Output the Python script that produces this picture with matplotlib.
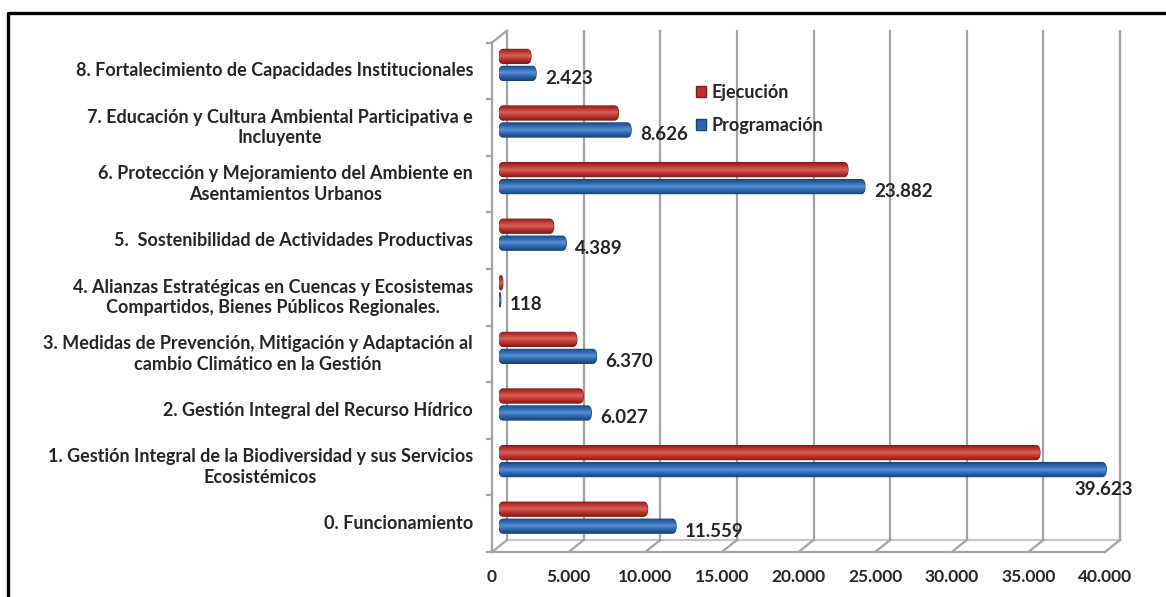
import numpy as np
import matplotlib
matplotlib.use('Agg')
import matplotlib.pyplot as plt
import matplotlib.transforms as mtransforms
from matplotlib.colors import LinearSegmentedColormap
from matplotlib.lines import Line2D
from matplotlib.patches import Patch, FancyBboxPatch

plt.rcParams['font.family'] = ['Lato', 'DejaVu Sans']

# datos
categorias = [
    "0. Funcionamiento",
    "1. Gestión Integral de la Biodiversidad y sus Servicios\nEcosistémicos",
    "2. Gestión Integral del Recurso Hídrico",
    "3. Medidas de Prevención, Mitigación y Adaptación al\ncambio Climático en la Gestión",
    "4. Alianzas Estratégicas en Cuencas y Ecosistemas\nCompartidos, Bienes Públicos Regionales.",
    "5.  Sostenibilidad de Actividades Productivas",
    "6. Protección y Mejoramiento del Ambiente en\nAsentamientos Urbanos",
    "7. Educación y Cultura Ambiental Participativa e\nIncluyente",
    "8. Fortalecimiento de Capacidades Institucionales",
]
ejecucion = [9700, 35300, 5500, 5080, 250, 3570, 22770, 7800, 2090]
programacion = [11559, 39623, 6027, 6370, 118, 4389, 23882, 8626, 2423]
ticks_x = [0, 5000, 10000, 15000, 20000, 25000, 30000, 35000, 40000]

W, H = 1166, 597
fig = plt.figure(figsize=(W / 100, H / 100), dpi=100)
fig.patch.set_facecolor('white')

# marco negro (arriba e izquierda)
fig.add_artist(Line2D([8 / W, 8 / W, 1.0], [0.0, 1 - 13 / H, 1 - 13 / H],
                      transform=fig.transFigure, color='black', lw=2.4))

ax = fig.add_axes([499 / W, 1 - 546 / H, (1112 - 499) / W, (546 - 36.6) / H])
ax.set_xlim(0, 40000)
ax.set_ylim(-0.5, 8.5)
ax.axis('off')

GRIS = '#A3A3A3'
TXT = '#262626'
FRENTE = (-7, -6)   # plano frontal (suelo / eje)
FONDO = (8, 6)      # pared del fondo


def pt(v, y, d):
    X, Y = ax.transData.transform((v, y))
    return X + d[0], Y + d[1]


def linea(p0, p1, **kw):
    l = Line2D([p0[0], p1[0]], [p0[1], p1[1]], transform=mtransforms.IdentityTransform(),
               color=GRIS, lw=1.6, clip_on=False, **kw)
    ax.add_line(l)


# pared del fondo: lineas de division
for v in ticks_x:
    linea(pt(v, -0.5, FONDO), pt(v, 8.5, FONDO), zorder=1)
# suelo
linea(pt(0, -0.5, FRENTE), pt(40000, -0.5, FRENTE), zorder=1)
linea(pt(0, -0.5, FONDO), pt(40000, -0.5, FONDO), zorder=1, alpha=0.6)
for v in ticks_x:
    linea(pt(v, -0.5, FRENTE), pt(v, -0.5, FONDO), zorder=1)
# pared izquierda
linea(pt(0, -0.5, FRENTE), pt(0, 8.5, FRENTE), zorder=1)
linea(pt(0, 8.5, FRENTE), pt(0, 8.5, FONDO), zorder=1)
for k in range(len(categorias) + 1):
    p = pt(0, k - 0.5, FRENTE)
    linea((p[0] - 5, p[1]), p, zorder=1)

# barras con degradado y extremos redondeados
alto = 0.25
y = np.arange(len(categorias))
px_x = 40000 / (1112 - 499)          # unidades de datos por pixel (x)
px_y = 9.0 / (546 - 36.6)            # unidades de datos por pixel (y)


def sombrear(bars, base, claro, oscuro, borde):
    cmap = LinearSegmentedColormap.from_list('g', [oscuro, base, claro, base, oscuro])
    grad = np.linspace(0, 1, 64).reshape(-1, 1)
    for b in bars:
        x0, y0 = b.get_x(), b.get_y()
        w, h = b.get_width(), b.get_height()
        b.set_visible(False)
        r = min(4 * px_x, w / 2)
        caja = FancyBboxPatch((x0, y0), w, h, boxstyle=f"round,pad=0,rounding_size={r}",
                              mutation_aspect=(h / 2) / r, facecolor=base, edgecolor=borde,
                              lw=0.8, zorder=3)
        ax.add_patch(caja)
        im = ax.imshow(grad, cmap=cmap, extent=(x0, x0 + w, y0, y0 + h), origin='lower',
                       aspect='auto', zorder=3.5, interpolation='bicubic')
        im.set_clip_path(caja)


b_ej = ax.barh(y + 0.15, ejecucion, height=alto, color='#BC342F', zorder=3, label='Ejecución')
b_pr = ax.barh(y - 0.15, programacion, height=alto, color='#2C66B0', zorder=3, label='Programación')
sombrear(b_ej, '#BC342F', '#D9625A', '#861D19', '#7E1B17')
sombrear(b_pr, '#2C66B0', '#5A90D2', '#1C4680', '#1B3F72')
ax.set_xlim(0, 40000)
ax.set_ylim(-0.5, 8.5)

# etiquetas de valores (Programación)
for i, v in enumerate(programacion):
    txt = f"{v:,}".replace(',', '.')
    if v == max(programacion):
        tr = mtransforms.offset_copy(ax.transData, fig=fig, x=27, y=-20, units='dots')
        ax.text(v, i - 0.15, txt, transform=tr, ha='right', va='center',
                fontsize=13.5, fontweight='bold', color=TXT, zorder=5)
    else:
        tr = mtransforms.offset_copy(ax.transData, fig=fig, x=9, y=-5, units='dots')
        ax.text(v, i - 0.15, txt, transform=tr, ha='left', va='center',
                fontsize=13.5, fontweight='bold', color=TXT, zorder=5)

# etiquetas de categorias
tr_cat = mtransforms.offset_copy(ax.transData, fig=fig, x=-26, y=-6, units='dots')
for i, c in enumerate(categorias):
    ax.text(0, i, c, transform=tr_cat, ha='right', va='center', multialignment='center',
            fontsize=13, fontweight='bold', color=TXT, linespacing=1.25)

# etiquetas del eje x
tr_x = mtransforms.offset_copy(ax.transData, fig=fig, x=-7, y=-31, units='dots')
for v in ticks_x:
    ax.text(v, -0.5, f"{v:,}".replace(',', '.'), transform=tr_x, ha='center', va='center',
            fontsize=12.5, fontweight='bold', color=TXT)

# leyenda
handles = [Patch(facecolor='#BC342F', edgecolor='#7E1B17'),
           Patch(facecolor='#2C66B0', edgecolor='#1B3F72')]
fig.legend(handles, ['Ejecución', 'Programación'], loc='upper left',
           bbox_to_anchor=(680 / W, 1 - 68 / H), frameon=False,
           handlelength=0.55, handleheight=0.55, handletextpad=0.3, labelspacing=0.85,
           prop={'weight': 'bold', 'size': 13}, labelcolor=TXT)

fig.savefig('out.png', dpi=100, facecolor='white')
